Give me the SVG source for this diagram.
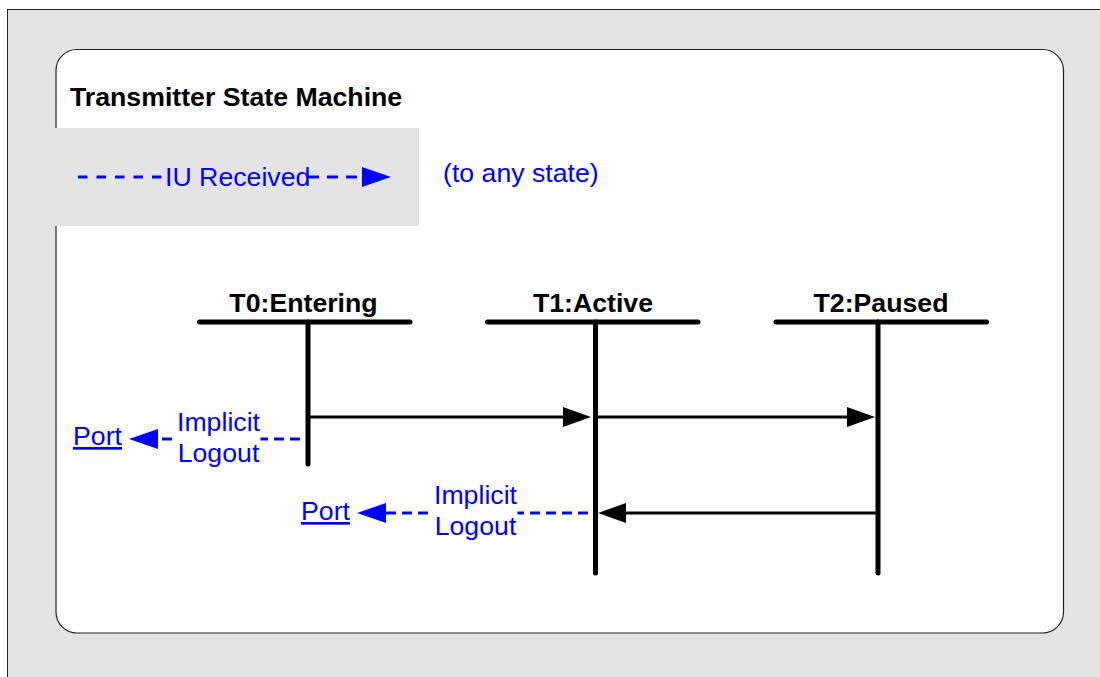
<svg xmlns="http://www.w3.org/2000/svg" width="1100" height="677" viewBox="0 0 1100 677">
  <style>
    .txt { font-family: "Liberation Sans", Arial, sans-serif; font-size: 26.7px; }
    .bold { font-weight: bold; fill: #000; }
    .blue { fill: #0000ff; }
    .link { fill: #0000ff; text-decoration: underline; }
    .bar { stroke: #000; stroke-width: 5; stroke-linecap: round; fill: none; }
    .msg { stroke: #000; stroke-width: 3; fill: none; }
    .dash { stroke: #0000ff; stroke-width: 3; stroke-dasharray: 10 6; fill: none; }
    .legdash { stroke: #0000ff; stroke-width: 3; stroke-dasharray: 9.5 9; fill: none; }
    .legdash2 { stroke: #0000ff; stroke-width: 3; stroke-dasharray: 11 8; fill: none; }
  </style>
  <defs>
    <marker id="headBlack" viewBox="0 0 28 20" refX="0" refY="10" markerWidth="28" markerHeight="20" markerUnits="userSpaceOnUse" orient="auto">
      <path d="M0,0 L28,10 L0,20 Z" fill="#000"/>
    </marker>
    <marker id="headBlue" viewBox="0 0 29 20" refX="0" refY="10" markerWidth="29" markerHeight="20" markerUnits="userSpaceOnUse" orient="auto">
      <path d="M0,0 L29,10 L0,20 Z" fill="#0000ff"/>
    </marker>
  </defs>

  <!-- background frame -->
  <g id="frame">
    <rect x="7.5" y="9.5" width="1100" height="680" fill="#e4e4e4" stroke="#222" stroke-width="1"/>
    <rect x="56" y="49.5" width="1007.5" height="583.5" rx="21" ry="21" fill="#fff" stroke="#222" stroke-width="1.2"/>
    <text class="txt bold" x="70" y="106">Transmitter State Machine</text>
  </g>

  <!-- legend -->
  <g id="legend">
    <rect x="55" y="128" width="364" height="98" fill="#e4e4e4"/>
    <line class="legdash" x1="78" y1="177" x2="163" y2="177"/>
    <line class="legdash2" x1="308" y1="177" x2="362" y2="177" marker-end="url(#headBlue)"/>
    <text class="txt blue" x="165" y="186">IU Received</text>
    <text class="txt blue" x="443" y="182">(to any state)</text>
  </g>

  <!-- states -->
  <g id="state-t0">
    <text class="txt bold" x="303.5" y="312" text-anchor="middle">T0:Entering</text>
    <line class="bar" x1="199.5" y1="322" x2="410" y2="322"/>
    <line class="bar" x1="308" y1="322" x2="308" y2="464"/>
  </g>
  <g id="state-t1">
    <text class="txt bold" x="593" y="312" text-anchor="middle">T1:Active</text>
    <line class="bar" x1="487.5" y1="322" x2="698" y2="322"/>
    <line class="bar" x1="595.5" y1="322" x2="595.5" y2="573"/>
  </g>
  <g id="state-t2">
    <text class="txt bold" x="881" y="312" text-anchor="middle">T2:Paused</text>
    <line class="bar" x1="776" y1="322" x2="986.5" y2="322"/>
    <line class="bar" x1="878" y1="322" x2="878" y2="573"/>
  </g>

  <!-- port targets -->
  <g id="port-1">
    <text class="txt link" x="73" y="445">Port</text>
  </g>
  <g id="port-2">
    <text class="txt link" x="301" y="520">Port</text>
  </g>

  <!-- transitions -->
  <g id="connectors">
    <line class="msg" x1="308" y1="417" x2="563" y2="417" marker-end="url(#headBlack)"/>
    <line class="msg" x1="595.5" y1="417" x2="847" y2="417" marker-end="url(#headBlack)"/>
    <line class="msg" x1="878" y1="513" x2="626" y2="513" marker-end="url(#headBlack)"/>

    <line class="dash" x1="300" y1="439" x2="158" y2="439" marker-end="url(#headBlue)"/>
    <rect x="175.5" y="426" width="85" height="26" fill="#fff"/>
    <text class="txt blue" x="218.5" y="431" text-anchor="middle">Implicit</text>
    <text class="txt blue" x="218.5" y="462" text-anchor="middle">Logout</text>

    <line class="dash" x1="588" y1="513" x2="386" y2="513" marker-end="url(#headBlue)"/>
    <rect x="432.5" y="500" width="85" height="26" fill="#fff"/>
    <text class="txt blue" x="475.5" y="504" text-anchor="middle">Implicit</text>
    <text class="txt blue" x="475.5" y="535" text-anchor="middle">Logout</text>
  </g>
</svg>
